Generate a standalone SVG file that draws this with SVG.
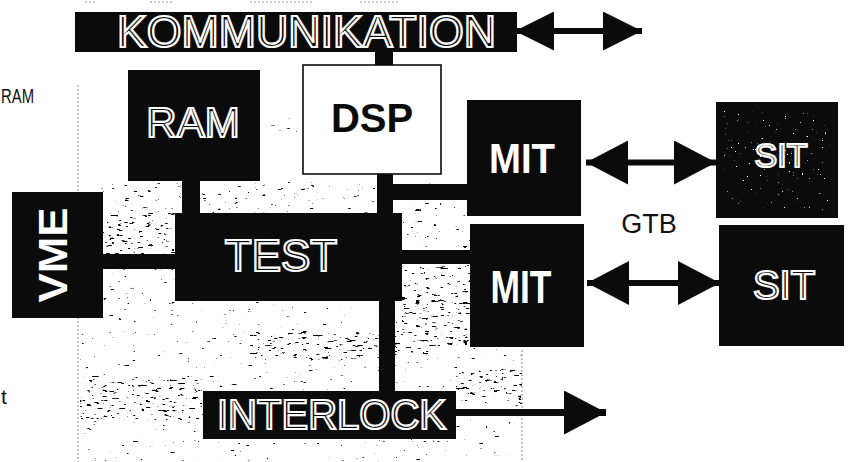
<svg xmlns="http://www.w3.org/2000/svg" width="848" height="462" viewBox="0 0 848 462">
  <defs>
    <style>
      .blk{fill:#0b0b0b}
      .bus{fill:#0b0b0b}
      .out{font-family:"Liberation Sans",Arial,sans-serif;fill:#0b0b0b;stroke:#fff;stroke-width:2.2}
      .solid{font-family:"Liberation Sans",Arial,sans-serif;font-weight:bold;fill:#fff;text-anchor:middle}
      .plain{font-family:"Liberation Sans",Arial,sans-serif;fill:#111}
      .shaft{stroke:#0b0b0b;fill:none}
      .edge{stroke:#9a9a9a;stroke-width:1.2;stroke-dasharray:2 2;fill:none}
    </style>
    <!-- arrowheads -->
    <marker id="head" markerUnits="userSpaceOnUse" viewBox="0 0 42 44" markerWidth="42" markerHeight="44" refX="42" refY="22" orient="auto-start-reverse">
      <path d="M0,0 L42,22 L0,44 Z" fill="#0b0b0b"/>
    </marker>
    <marker id="headS" markerUnits="userSpaceOnUse" viewBox="0 0 39 39" markerWidth="39" markerHeight="39" refX="39" refY="19.5" orient="auto-start-reverse">
      <path d="M0,0 L39,19.5 L0,39 Z" fill="#0b0b0b"/>
    </marker>
    <!-- scanned halftone grain -->
    <filter id="grainXL" filterUnits="objectBoundingBox" x="0" y="0" width="1" height="1">
      <feTurbulence type="fractalNoise" baseFrequency="0.13 0.42" numOctaves="3" seed="5"/>
      <feColorMatrix type="matrix" values="0 0 0 0 0  0 0 0 0 0  0 0 0 0 0  16 0 0 0 -12.2"/>
    </filter>
    <filter id="grainL" filterUnits="objectBoundingBox" x="0" y="0" width="1" height="1">
      <feTurbulence type="fractalNoise" baseFrequency="0.13 0.42" numOctaves="3" seed="7"/>
      <feColorMatrix type="matrix" values="0 0 0 0 0  0 0 0 0 0  0 0 0 0 0  16 0 0 0 -11.6"/>
    </filter>
    <filter id="grainH" filterUnits="objectBoundingBox" x="0" y="0" width="1" height="1">
      <feTurbulence type="fractalNoise" baseFrequency="0.13 0.4" numOctaves="3" seed="11"/>
      <feColorMatrix type="matrix" values="0 0 0 0 0  0 0 0 0 0  0 0 0 0 0  16 0 0 0 -10.6"/>
    </filter>
    <filter id="grainW" filterUnits="objectBoundingBox" x="0" y="0" width="1" height="1">
      <feTurbulence type="fractalNoise" baseFrequency="0.45" numOctaves="2" seed="4"/>
      <feColorMatrix type="matrix" values="0 0 0 0 1  0 0 0 0 1  0 0 0 0 1  18 0 0 0 -13.4"/>
    </filter>
  </defs>

  <rect width="848" height="462" fill="#fff"/>

  <!-- labels at the left margin -->
  <text class="plain" x="1" y="103" font-size="21" textLength="33" lengthAdjust="spacingAndGlyphs">RAM</text>
  <text class="plain" x="1" y="404" font-size="21">t</text>

  <!-- panel edges and grain -->
  <g id="panel">
    <path class="edge" d="M78,85 V462 M522,350 V462"/>
    <path class="edge" d="M85,2 H96 M150,2 H172 M250,2 H312 M360,2 H400" stroke-dasharray="3 3"/>
    <rect x="262" y="118" width="40" height="18" filter="url(#grainL)"/>
    <rect x="100" y="182" width="370" height="32" filter="url(#grainL)"/>
    <rect x="100" y="212" width="75" height="42" filter="url(#grainH)"/>
    <rect x="103" y="269" width="72" height="32" filter="url(#grainL)"/>
    <rect x="402" y="200" width="68" height="50" filter="url(#grainL)"/>
    <rect x="402" y="264" width="68" height="82" filter="url(#grainH)"/>
    <rect x="80" y="301" width="442" height="161" filter="url(#grainXL)"/>
    <rect x="250" y="332" width="190" height="28" filter="url(#grainH)"/>
    <rect x="80" y="376" width="122" height="44" filter="url(#grainH)"/>
    <rect x="456" y="370" width="66" height="30" filter="url(#grainH)"/>
  </g>

  <!-- connectors: bus bars and arrows -->
  <g id="connectors">
    <rect class="bus" x="375" y="52" width="18" height="13"/>
    <rect class="bus" x="377" y="173" width="16" height="41"/>
    <rect class="bus" x="393" y="184" width="75" height="16"/>
    <rect class="bus" x="182" y="180" width="18" height="34"/>
    <rect class="bus" x="103" y="254" width="72" height="15"/>
    <rect class="bus" x="402" y="250" width="68" height="14"/>
    <rect class="bus" x="379" y="300" width="16" height="92"/>
    <line class="shaft" x1="515" y1="31" x2="642" y2="31" stroke-width="6" marker-start="url(#headS)" marker-end="url(#headS)"/>
    <line class="shaft" x1="586" y1="162.5" x2="716" y2="162.5" stroke-width="6" marker-start="url(#head)" marker-end="url(#head)"/>
    <line class="shaft" x1="587" y1="283" x2="720" y2="283" stroke-width="6" marker-start="url(#head)" marker-end="url(#head)"/>
    <line class="shaft" x1="456" y1="412.5" x2="606" y2="412.5" stroke-width="7" marker-end="url(#head)"/>
  </g>

  <g id="kommunikation">
    <rect class="blk" x="75" y="12" width="442" height="40"/>
    <text class="out" x="117" y="47" font-size="44" textLength="379" lengthAdjust="spacingAndGlyphs">KOMMUNIKATION</text>
  </g>

  <g id="ram">
    <rect class="blk" x="128" y="70" width="132" height="111"/>
    <text class="out" x="193" y="137" font-size="42" text-anchor="middle">RAM</text>
  </g>

  <g id="dsp">
    <rect x="303" y="65" width="138" height="109" fill="#fff" stroke="#0b0b0b" stroke-width="1.6"/>
    <text class="solid" x="372" y="132" font-size="40" style="fill:#0b0b0b">DSP</text>
  </g>

  <g id="vme">
    <rect class="blk" x="12" y="192" width="91" height="126"/>
    <text class="solid" transform="translate(67,255) rotate(-90)" font-size="40" textLength="95" lengthAdjust="spacingAndGlyphs">VME</text>
  </g>

  <g id="test">
    <rect class="blk" x="175" y="213" width="227" height="88"/>
    <text class="out" x="281" y="271" font-size="44" text-anchor="middle">TEST</text>
  </g>

  <g id="mit-1">
    <rect class="blk" x="467" y="100" width="114" height="116"/>
    <text class="solid" x="522" y="173" font-size="42" textLength="66" lengthAdjust="spacingAndGlyphs">MIT</text>
  </g>

  <g id="mit-2">
    <rect class="blk" x="470" y="224" width="114" height="123"/>
    <text class="solid" x="521" y="303" font-size="46" textLength="61" lengthAdjust="spacingAndGlyphs">MIT</text>
  </g>

  <g id="sit-1">
    <rect class="blk" x="716" y="102" width="122" height="116"/>
    <rect x="724" y="110" width="106" height="100" filter="url(#grainW)"/>
    <text class="out" x="781" y="167" font-size="34" text-anchor="middle">SIT</text>
  </g>

  <g id="sit-2">
    <rect class="blk" x="719" y="225" width="125" height="121"/>
    <text class="out" x="784" y="299" font-size="40" text-anchor="middle">SIT</text>
  </g>

  <g id="interlock">
    <rect class="blk" x="203" y="391" width="253" height="48"/>
    <text class="out" x="217" y="429" font-size="42" textLength="229" lengthAdjust="spacingAndGlyphs">INTERLOCK</text>
  </g>

  <text class="plain" x="649" y="233" font-size="27" text-anchor="middle">GTB</text>
</svg>
